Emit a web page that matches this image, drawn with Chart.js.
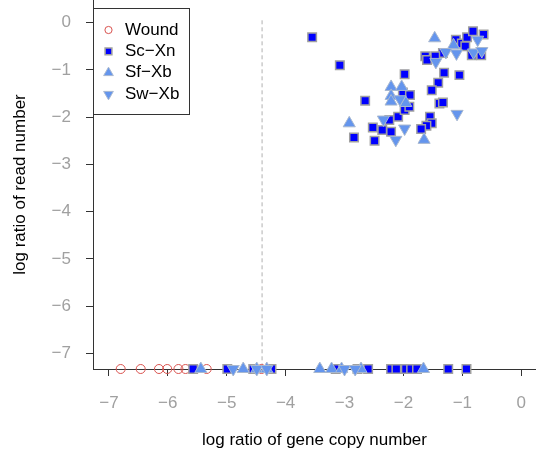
<!DOCTYPE html>
<html>
<head>
<meta charset="utf-8">
<script src="https://cdn.jsdelivr.net/npm/chart.js@4.4.1/dist/chart.umd.min.js"></script>
<style>
html, body { margin: 0; padding: 0; background: #fff; }
#wrap { width: 536px; height: 456px; }
</style>
</head>
<body>
<div id="wrap"><canvas id="chart"></canvas></div>
<script>
// genes with no reads are plotted on the bottom axis
var woundX = [-6.80, -6.46, -6.15, -6.01, -5.82, -5.70, -5.34, -4.41];
var woundY = [-7.33, -7.33, -7.33, -7.33, -7.33, -7.33, -7.33, -7.33];

var scX = [-3.55, -3.08, -1.98, -2.65, -2.84, -2.52, -2.49, -2.36, -2.24, -2.21,
           -2.09, -1.98, -2.01, -1.89, -1.90, -1.31, -1.05, -1.41, -1.52, -1.39,
           -1.33, -1.55, -1.52, -1.61, -1.70, -1.11, -1.01, -0.92, -0.82, -0.64,
           -0.95, -1.33, -1.63, -1.60, -1.46, -0.84, -0.68,
           -5.57, -4.99, -4.55, -4.24, -3.15, -2.78, -2.60, -2.21, -2.12, -1.96,
           -1.87, -1.77, -1.24, -0.93];
var scY = [-0.31, -0.90, -1.09, -1.65, -2.43, -2.22, -2.50, -2.27, -2.06, -2.31,
           -1.99, -1.85, -1.48, -1.53, -1.78, -1.06, -1.11, -1.27, -1.43, -1.71,
           -1.69, -1.99, -2.13, -2.18, -2.25, -0.36, -0.44, -0.31, -0.18, -0.25,
           -0.50, -0.64, -0.71, -0.79, -0.71, -0.69, -0.69,
           -7.33, -7.33, -7.33, -7.33, -7.33, -7.33, -7.33, -7.33, -7.33, -7.33,
           -7.33, -7.33, -7.33, -7.33];

var sfX = [-2.92, -2.21, -2.21, -2.21, -2.03, -1.96, -1.65, -1.47, -1.15,
           -5.44, -4.72, -4.49, -4.32, -3.42, -3.22, -3.05, -2.72, -1.66];
var sfY = [-2.13, -1.36, -1.55, -1.67, -1.36, -1.70, -2.48, -0.33, -0.48,
           -7.33, -7.33, -7.33, -7.33, -7.33, -7.33, -7.33, -7.33, -7.33];

var swX = [-2.34, -2.13, -1.98, -2.06, -1.09, -0.74, -1.28, -1.10, -1.45, -0.81, -0.67,
           -4.89, -4.49, -4.32, -3.00, -2.82];
var swY = [-2.05, -2.48, -2.24, -1.62, -1.93, -0.36, -0.62, -0.65, -0.83, -0.63, -0.60,
           -7.33, -7.33, -7.33, -7.33, -7.33];

var cutoffX = -4.40;
var cutoffY = [0.05, -7.33];

var xTicks = [-7, -6, -5, -4, -3, -2, -1, 0];
var yTicks = [0, -1, -2, -3, -4, -5, -6, -7];

function pts(xs, ys) {
    return xs.map(function (x, i) { return { x: x, y: ys[i] }; });
}
function minus(v) {
    return v < 0 ? '\u2212' + Math.abs(v) : String(v);
}
// keep the plot box fixed, labels may hang over the edges like in R
function noPad(s) {
    s.paddingLeft = 0;
    s.paddingRight = 0;
    s.paddingTop = 0;
    s.paddingBottom = 0;
}

Chart.defaults.font.family = '"Liberation Sans", Arial, sans-serif';

// R style legend box in the top left corner
var boxLegend = {
    id: 'boxLegend',
    afterDraw: function (chart) {
        var ctx = chart.ctx;
        var left = chart.chartArea.left;
        var top = 8;
        ctx.save();
        ctx.fillStyle = '#fff';
        ctx.fillRect(left, top, 96, 106);
        ctx.strokeStyle = '#333';
        ctx.lineWidth = 1;
        ctx.strokeRect(left + 0.5, top + 0.5, 96, 106);
        var items = chart.data.datasets.filter(function (d) { return d.label; });
        items.forEach(function (ds, i) {
            var cy = top + 22 + i * 21.4;
            ctx.fillStyle = ds.backgroundColor;
            ctx.strokeStyle = ds.borderColor;
            ctx.lineWidth = ds.borderWidth;
            Chart.helpers.drawPoint(ctx, {
                pointStyle: ds.pointStyle,
                rotation: ds.pointRotation || 0,
                radius: ds.pointRadius * 0.8,
                borderWidth: ds.borderWidth
            }, left + 15.5, cy);
            ctx.fillStyle = '#000';
            ctx.font = '17px "Liberation Sans", Arial, sans-serif';
            ctx.textBaseline = 'middle';
            ctx.textAlign = 'left';
            ctx.fillText(ds.label, left + 32, cy);
        });
        ctx.restore();
    }
};

new Chart(document.getElementById('chart'), {
    type: 'scatter',
    data: {
        datasets: [{
            type: 'line',
            data: pts([cutoffX, cutoffX], cutoffY),
            borderColor: '#b0b0b0',
            borderWidth: 1,
            borderDash: [4, 3],
            pointRadius: 0,
            order: 5
        }, {
            label: 'Wound',
            data: pts(woundX, woundY),
            pointStyle: 'circle',
            pointRadius: 4.5,
            backgroundColor: 'rgba(0,0,0,0)',
            borderColor: '#d9534f',
            borderWidth: 1,
            clip: false,
            order: 4
        }, {
            label: 'Sc\u2212Xn',
            data: pts(scX, scY),
            pointStyle: 'rect',
            pointRadius: 6,
            backgroundColor: '#0000ff',
            borderColor: '#a0a0a0',
            borderWidth: 1.5,
            clip: false,
            order: 3
        }, {
            label: 'Sf\u2212Xb',
            data: pts(sfX, sfY),
            pointStyle: 'triangle',
            pointRadius: 7,
            backgroundColor: '#6495ed',
            borderColor: '#a8b8d0',
            borderWidth: 1,
            clip: false,
            order: 2
        }, {
            label: 'Sw\u2212Xb',
            data: pts(swX, swY),
            pointStyle: 'triangle',
            pointRotation: 180,
            pointRadius: 7,
            backgroundColor: '#6495ed',
            borderColor: '#a8b8d0',
            borderWidth: 1,
            clip: false,
            order: 1
        }]
    },
    options: {
        responsive: true,
        maintainAspectRatio: false,
        animation: false,
        layout: { padding: 0, autoPadding: false },
        plugins: {
            legend: { display: false },
            tooltip: { enabled: false }
        },
        scales: {
            x: {
                type: 'linear',
                min: -7.27,
                max: 0.25,
                afterBuildTicks: function (s) {
                    s.ticks = xTicks.map(function (v) { return { value: v }; });
                },
                afterFit: function (s) { s.height = 87; noPad(s); },
                ticks: {
                    callback: minus,
                    color: '#a0a0a0',
                    font: { size: 17 },
                    padding: 17,
                    maxRotation: 0,
                    autoSkip: false
                },
                grid: {
                    drawOnChartArea: false,
                    tickLength: 7,
                    color: '#333'
                },
                border: { display: true, color: '#333' },
                title: {
                    display: true,
                    text: 'log ratio of gene copy number',
                    color: '#000',
                    font: { size: 17 },
                    padding: { top: 0, bottom: 5 }
                }
            },
            y: {
                type: 'linear',
                min: -7.33,
                max: 0.48,
                afterBuildTicks: function (s) {
                    s.ticks = yTicks.map(function (v) { return { value: v }; });
                },
                afterFit: function (s) { s.width = 93; noPad(s); },
                ticks: {
                    callback: minus,
                    color: '#a0a0a0',
                    font: { size: 17 },
                    padding: 15,
                    autoSkip: false
                },
                grid: {
                    drawOnChartArea: false,
                    tickLength: 7,
                    color: '#333'
                },
                border: { display: true, color: '#333' },
                title: {
                    display: true,
                    text: 'log ratio of read number',
                    color: '#000',
                    font: { size: 17 },
                    padding: { top: 10, bottom: 0 }
                }
            }
        }
    },
    plugins: [boxLegend]
});
</script>
</body>
</html>
